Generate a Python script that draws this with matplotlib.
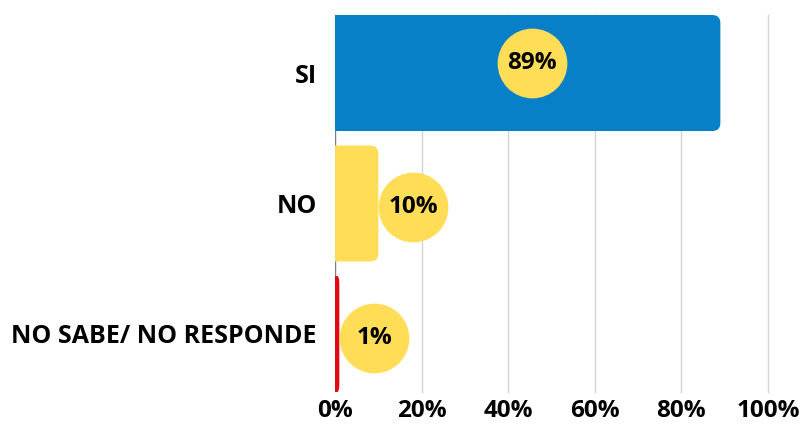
import numpy as np
import matplotlib
matplotlib.use("Agg")
import matplotlib.pyplot as plt
from matplotlib.path import Path
from matplotlib.patches import PathPatch

plt.rcParams['font.family'] = ['Open Sans', 'DejaVu Sans']

# data
categories = ['SI', 'NO', 'NO SABE/ NO RESPONDE']
values = [89, 10, 1]
bar_colors = ['#0780C8', '#FFDD57', '#E30613']
xticks = [0, 20, 40, 60, 80, 100]

fig = plt.figure(figsize=(8.03, 4.24), dpi=100)
ax = fig.add_axes([0.4172, 0.0755, 0.5392, 0.8891])

bar_h = 0.889
ax.set_xlim(0, 100)
ax.set_ylim(2 + bar_h / 2, -bar_h / 2)

# corner radius ~8px converted to data units
rx_full = 8 / 4.33
ry = 8 / 130.5


def right_rounded(x0, x1, yc, h, rx, ry):
    y0, y1 = yc - h / 2, yc + h / 2
    rx = min(rx, (x1 - x0) / 2)
    verts = [(x0, y0), (x1 - rx, y0), (x1, y0), (x1, y0 + ry),
             (x1, y1 - ry), (x1, y1), (x1 - rx, y1), (x0, y1), (x0, y0)]
    codes = [Path.MOVETO, Path.LINETO, Path.CURVE3, Path.CURVE3,
             Path.LINETO, Path.CURVE3, Path.CURVE3, Path.LINETO, Path.CLOSEPOLY]
    return Path(verts, codes)


for i, (v, c) in enumerate(zip(values, bar_colors)):
    ax.add_patch(PathPatch(right_rounded(0, v, i, bar_h, rx_full, ry),
                           facecolor=c, edgecolor='none', zorder=3))

# value bubbles
r_data = 35 / 4.33
y_off = [-0.077, 0.03, 0.03]
for i, v in enumerate(values):
    if v > 2.5 * r_data:
        xc = v / 2 + 1
    else:
        xc = v + r_data
    ax.scatter([xc], [i + y_off[i]], s=2520, color='#FFDD57', zorder=4, linewidths=0)
    ax.text(xc, i + y_off[i], f'{v}%', ha='center', va='center', fontsize=17.5,
            fontweight='bold', color='black', zorder=5)

ax.set_yticks(range(len(categories)))
ax.set_yticklabels(categories, fontsize=18, fontweight='bold')
ax.set_xticks(xticks)
ax.set_xticklabels([f'{t}%' for t in xticks], fontsize=17.5, fontweight='bold')
ax.tick_params(axis='both', length=0)
ax.tick_params(axis='y', pad=13)
ax.tick_params(axis='x', pad=5)

for t in xticks[1:]:
    ax.axvline(t, color='#D4D4D4', linewidth=1, zorder=1, clip_on=False)
ax.axvline(0, color='#7F7F7F', linewidth=1, zorder=2)

for s in ax.spines.values():
    s.set_visible(False)

fig.savefig('out.png', dpi=100)
